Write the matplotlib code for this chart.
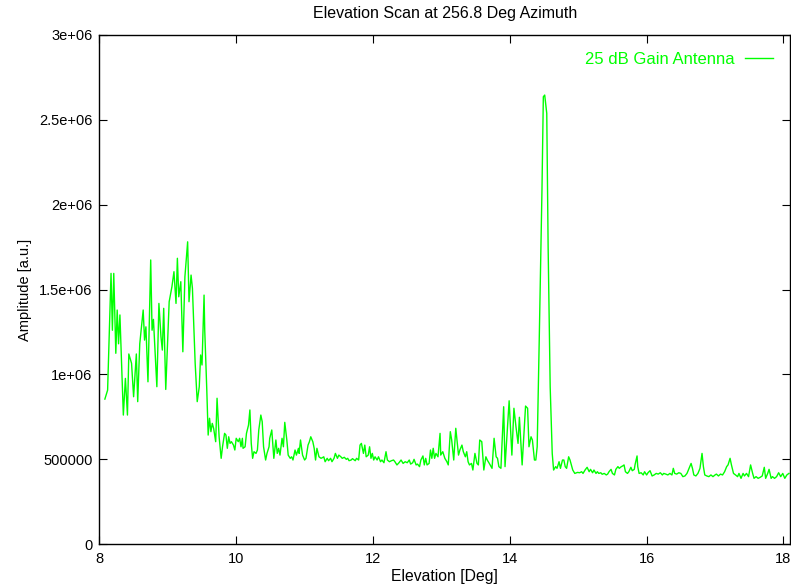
import matplotlib
matplotlib.use("Agg")
import matplotlib.pyplot as plt
from matplotlib.ticker import FixedLocator, FixedFormatter

elevation_deg = [
    8.08, 8.12, 8.17, 8.19, 8.21, 8.24, 8.26, 8.28, 8.30, 8.35, 8.38, 8.41, 8.43, 8.47, 8.50,
    8.54, 8.56, 8.59, 8.64, 8.66, 8.68, 8.71, 8.75, 8.77, 8.79, 8.84, 8.87, 8.90, 8.92, 8.94,
    8.97, 9.02, 9.06, 9.09, 9.12, 9.14, 9.16, 9.19, 9.22, 9.25, 9.29, 9.30, 9.31, 9.34, 9.36,
    9.40, 9.43, 9.46, 9.48, 9.50, 9.53, 9.54, 9.57, 9.59, 9.61, 9.63, 9.65, 9.67, 9.70, 9.72,
    9.75, 9.78, 9.80, 9.83, 9.85, 9.87, 9.89, 9.91, 9.93, 9.96, 9.98, 10.00, 10.03, 10.05, 10.07,
    10.09, 10.10, 10.13, 10.15, 10.18, 10.20, 10.22, 10.24, 10.26, 10.29, 10.31, 10.33, 10.36, 10.38, 10.40,
    10.43, 10.45, 10.48, 10.49, 10.52, 10.55, 10.58, 10.60, 10.62, 10.64, 10.67, 10.69, 10.71, 10.74, 10.76,
    10.79, 10.81, 10.83, 10.86, 10.88, 10.91, 10.92, 10.94, 10.97, 11.00, 11.02, 11.05, 11.07, 11.09, 11.12,
    11.14, 11.16, 11.18, 11.21, 11.24, 11.26, 11.28, 11.30, 11.33, 11.35, 11.38, 11.40, 11.43, 11.45, 11.48,
    11.50, 11.53, 11.55, 11.58, 11.61, 11.63, 11.65, 11.68, 11.70, 11.74, 11.76, 11.79, 11.81, 11.83, 11.86,
    11.88, 11.90, 11.93, 11.95, 11.97, 11.99, 12.01, 12.03, 12.06, 12.08, 12.11, 12.13, 12.16, 12.19, 12.21,
    12.24, 12.27, 12.30, 12.32, 12.35, 12.38, 12.41, 12.44, 12.47, 12.50, 12.53, 12.55, 12.58, 12.60, 12.63,
    12.65, 12.68, 12.70, 12.73, 12.75, 12.77, 12.79, 12.82, 12.84, 12.86, 12.88, 12.90, 12.92, 12.95, 12.98,
    12.99, 13.02, 13.05, 13.08, 13.10, 13.13, 13.15, 13.18, 13.21, 13.23, 13.25, 13.27, 13.30, 13.32, 13.35,
    13.37, 13.39, 13.41, 13.44, 13.46, 13.49, 13.52, 13.54, 13.56, 13.59, 13.62, 13.65, 13.67, 13.70, 13.74,
    13.77, 13.80, 13.82, 13.84, 13.87, 13.91, 13.93, 13.96, 13.99, 14.03, 14.06, 14.09, 14.12, 14.14, 14.18,
    14.21, 14.23, 14.26, 14.28, 14.31, 14.33, 14.36, 14.38, 14.40, 14.43, 14.47, 14.49, 14.51, 14.54, 14.56,
    14.59, 14.62, 14.64, 14.67, 14.69, 14.72, 14.74, 14.77, 14.79, 14.81, 14.83, 14.86, 14.88, 14.92, 14.95,
    14.99, 15.02, 15.05, 15.07, 15.10, 15.13, 15.16, 15.18, 15.21, 15.23, 15.26, 15.28, 15.30, 15.33, 15.35,
    15.38, 15.41, 15.43, 15.45, 15.48, 15.50, 15.53, 15.55, 15.58, 15.60, 15.63, 15.65, 15.67, 15.69, 15.72,
    15.74, 15.77, 15.79, 15.82, 15.83, 15.86, 15.87, 15.89, 15.92, 15.95, 15.97, 16.00, 16.02, 16.05, 16.08,
    16.11, 16.14, 16.17, 16.20, 16.23, 16.25, 16.28, 16.31, 16.34, 16.37, 16.39, 16.41, 16.44, 16.47, 16.50,
    16.53, 16.56, 16.59, 16.62, 16.65, 16.67, 16.69, 16.72, 16.75, 16.78, 16.81, 16.83, 16.85, 16.88, 16.91,
    16.94, 16.97, 17.00, 17.02, 17.05, 17.08, 17.11, 17.14, 17.17, 17.19, 17.22, 17.24, 17.27, 17.30, 17.33,
    17.35, 17.38, 17.41, 17.43, 17.46, 17.49, 17.52, 17.55, 17.57, 17.60, 17.63, 17.66, 17.69, 17.72, 17.74,
    17.77, 17.79, 17.82, 17.84, 17.87, 17.90, 17.93, 17.96, 17.99, 18.02, 18.05, 18.08,
]

amplitude_millions = [
    0.854, 0.907, 1.595, 1.260, 1.595, 1.124, 1.379, 1.180, 1.350, 0.760, 0.976, 0.760, 1.120, 1.065, 0.868,
    1.120, 0.839, 1.180, 1.379, 1.202, 1.280, 0.956, 1.674, 1.260, 1.324, 0.927, 1.418, 1.222, 1.143, 1.389,
    0.911, 1.428, 1.516, 1.605, 1.418, 1.684, 1.457, 1.546, 1.133, 1.575, 1.781, 1.615, 1.428, 1.585, 1.507,
    1.065, 0.839, 0.927, 1.114, 1.055, 1.467, 1.260, 0.907, 0.642, 0.741, 0.662, 0.711, 0.682, 0.603, 0.859,
    0.632, 0.505, 0.573, 0.652, 0.642, 0.564, 0.632, 0.593, 0.603, 0.583, 0.554, 0.623, 0.603, 0.623, 0.573,
    0.623, 0.564, 0.573, 0.652, 0.701, 0.790, 0.593, 0.505, 0.544, 0.534, 0.554, 0.672, 0.760, 0.721, 0.573,
    0.495, 0.534, 0.573, 0.623, 0.672, 0.505, 0.613, 0.534, 0.564, 0.524, 0.623, 0.573, 0.717, 0.613, 0.524,
    0.505, 0.514, 0.495, 0.554, 0.524, 0.564, 0.534, 0.613, 0.524, 0.495, 0.505, 0.583, 0.603, 0.632, 0.603,
    0.564, 0.495, 0.564, 0.514, 0.505, 0.509, 0.514, 0.485, 0.505, 0.491, 0.505, 0.485, 0.505, 0.534, 0.505,
    0.524, 0.514, 0.505, 0.511, 0.499, 0.505, 0.491, 0.495, 0.503, 0.491, 0.505, 0.495, 0.583, 0.593, 0.534,
    0.583, 0.514, 0.524, 0.573, 0.505, 0.534, 0.495, 0.514, 0.495, 0.514, 0.485, 0.495, 0.479, 0.544, 0.495,
    0.485, 0.491, 0.495, 0.485, 0.466, 0.479, 0.495, 0.475, 0.485, 0.479, 0.495, 0.471, 0.479, 0.499, 0.466,
    0.471, 0.456, 0.495, 0.519, 0.466, 0.505, 0.466, 0.475, 0.554, 0.505, 0.564, 0.505, 0.534, 0.514, 0.652,
    0.524, 0.544, 0.505, 0.485, 0.466, 0.662, 0.613, 0.495, 0.682, 0.603, 0.524, 0.554, 0.583, 0.544, 0.514,
    0.544, 0.485, 0.466, 0.475, 0.436, 0.534, 0.475, 0.466, 0.613, 0.603, 0.436, 0.514, 0.495, 0.475, 0.446,
    0.623, 0.514, 0.505, 0.456, 0.446, 0.809, 0.456, 0.652, 0.844, 0.524, 0.800, 0.691, 0.593, 0.747, 0.466,
    0.672, 0.813, 0.800, 0.573, 0.632, 0.613, 0.495, 0.495, 0.573, 1.202, 2.086, 2.636, 2.646, 2.538, 1.752,
    0.927, 0.534, 0.436, 0.456, 0.446, 0.485, 0.446, 0.495, 0.495, 0.456, 0.446, 0.514, 0.495, 0.436, 0.416,
    0.422, 0.420, 0.426, 0.416, 0.436, 0.452, 0.426, 0.440, 0.420, 0.436, 0.416, 0.426, 0.416, 0.420, 0.411,
    0.416, 0.407, 0.412, 0.426, 0.440, 0.416, 0.407, 0.440, 0.456, 0.446, 0.456, 0.460, 0.466, 0.426, 0.416,
    0.426, 0.452, 0.432, 0.440, 0.466, 0.519, 0.456, 0.416, 0.420, 0.407, 0.426, 0.407, 0.420, 0.432, 0.401,
    0.407, 0.416, 0.412, 0.420, 0.407, 0.416, 0.412, 0.407, 0.416, 0.407, 0.446, 0.416, 0.412, 0.420, 0.416,
    0.397, 0.401, 0.416, 0.446, 0.475, 0.446, 0.407, 0.401, 0.416, 0.446, 0.534, 0.456, 0.407, 0.401, 0.397,
    0.407, 0.397, 0.407, 0.412, 0.401, 0.412, 0.407, 0.426, 0.456, 0.466, 0.505, 0.466, 0.416, 0.407, 0.397,
    0.416, 0.387, 0.416, 0.401, 0.416, 0.397, 0.466, 0.416, 0.387, 0.397, 0.387, 0.393, 0.401, 0.452, 0.387,
    0.416, 0.440, 0.387, 0.397, 0.387, 0.397, 0.420, 0.397, 0.416, 0.387, 0.407, 0.416,
]

x_ticks = [8, 10, 12, 14, 16, 18]
y_ticks = [0, 500000, 1000000, 1500000, 2000000, 2500000, 3000000]
y_tick_labels = ["0", "500000", "1e+06", "1.5e+06", "2e+06", "2.5e+06", "3e+06"]

title = "Elevation Scan at 256.8 Deg Azimuth"
x_label = "Elevation [Deg]"
y_label = "Amplitude [a.u.]"
series_label = "25 dB Gain Antenna"

plt.rcParams["font.family"] = ["Liberation Sans", "DejaVu Sans"]

W, H = 791, 585
fig = plt.figure(figsize=(W / 100, H / 100), dpi=100)
left, right, top, bottom = 99.4, 790.0, 35.0, 544.0
ax = fig.add_axes([left / W, 1 - bottom / H, (right - left) / W, (bottom - top) / H])

amp = [a * 1e6 for a in amplitude_millions]
ax.plot(elevation_deg, amp, color="#00ff00", linewidth=1.0, label=series_label)

ax.set_xlim(8, 18.096)
ax.set_ylim(0, 3e6)
ax.xaxis.set_major_locator(FixedLocator(x_ticks))
ax.yaxis.set_major_locator(FixedLocator(y_ticks))
ax.yaxis.set_major_formatter(FixedFormatter(y_tick_labels))

ax.tick_params(direction="in", length=6, width=0.8, top=True, right=True,
               labelsize=10.5, colors="black")
ax.tick_params(axis="y", pad=5)
ax.tick_params(axis="x", pad=6)
for s in ax.spines.values():
    s.set_linewidth(1.0)
    s.set_color("black")

ax.set_title(title, fontsize=11.5, pad=12)
ax.set_xlabel(x_label, fontsize=11.3, labelpad=2)
ax.set_ylabel(y_label, fontsize=10.5, labelpad=5)

leg = ax.legend(loc="upper right", frameon=False, markerfirst=False,
                prop={"size": 12}, labelcolor="#00ff00", handlelength=1.7,
                handletextpad=0.6, borderaxespad=0.7, borderpad=0.3)

fig.savefig("out.png", dpi=100)
